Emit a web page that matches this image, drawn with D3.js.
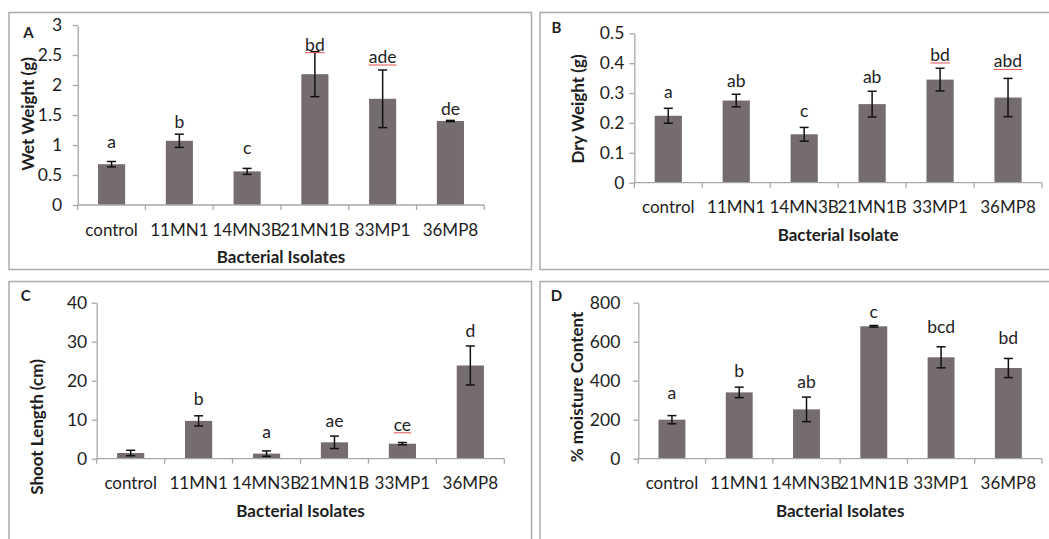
<!DOCTYPE html>
<html>
<head>
<meta charset="utf-8">
<script src="https://cdn.jsdelivr.net/npm/d3@7/dist/d3.min.js"></script>
<style>
  html, body { margin: 0; padding: 0; background: #fff; }
  svg { display: block; }
  text { font-family: Lato, "Open Sans", sans-serif; fill: #1e1e1e; }
</style>
</head>
<body>
<svg id="chart" width="1049" height="539"></svg>
<script>
// ---------------- DATA ----------------
const categories = ["control", "11MN1", "14MN3B", "21MN1B", "33MP1", "36MP8"];

const wetWeight        = [0.68, 1.07, 0.56, 2.18, 1.77, 1.40];
const wetWeightErr     = [0.045, 0.11, 0.05, 0.375, 0.48, 0.01];
const wetWeightLetters = ["a", "b", "c", "bd", "ade", "de"];
const wetWeightTicks   = [0, 0.5, 1, 1.5, 2, 2.5, 3];

const dryWeight        = [0.224, 0.275, 0.162, 0.263, 0.345, 0.285];
const dryWeightErr     = [0.025, 0.021, 0.023, 0.043, 0.038, 0.064];
const dryWeightLetters = ["a", "ab", "c", "ab", "bd", "abd"];
const dryWeightTicks   = [0, 0.1, 0.2, 0.3, 0.4, 0.5];

const shootLength        = [1.46, 9.7, 1.3, 4.2, 3.85, 23.9];
const shootLengthErr     = [0.7, 1.3, 0.7, 1.6, 0.3, 5.0];
const shootLengthLetters = ["", "b", "a", "ae", "ce", "d"];
const shootLengthTicks   = [0, 10, 20, 30, 40];

const moisture        = [200, 340, 253, 679, 520, 465];
const moistureErr     = [21, 27, 63, 4, 54, 49];
const moistureLetters = ["a", "b", "ab", "c", "bcd", "bd"];
const moistureTicks   = [0, 200, 400, 600, 800];

// letters flagged by the word processor's spell checker (red underline)
const wetWeightFlagged   = ["bd", "ade"];
const dryWeightFlagged   = ["bd", "abd"];
const shootLengthFlagged = ["ce"];
const moistureFlagged    = [];

// ---------------- LAYOUT ----------------
const panels = [
  { letter: "A", values: wetWeight, errs: wetWeightErr, letters: wetWeightLetters, ticks: wetWeightTicks,
    flagged: wetWeightFlagged, yTitle: "Wet Weight (g)", xTitle: "Bacterial Isolates",
    frame: [9, 12.5, 522.5, 257], x0: 77.7, x1: 484.3, yTop: 25, yBase: 205,
    yTickPad: 15.5, yTitleX: 28, yTitleY: 114, xTitleY: 262.7, letterXY: [23.3, 38],
    gaps: [14, 6.7, 14, 1, 7, 5.3] },
  { letter: "B", values: dryWeight, errs: dryWeightErr, letters: dryWeightLetters, ticks: dryWeightTicks,
    flagged: dryWeightFlagged, yTitle: "Dry Weight (g)", xTitle: "Bacterial Isolate",
    frame: [540, 12.5, 530, 257], x0: 634.3, x1: 1042, yTop: 33.3, yBase: 182.7,
    yTickPad: 10, yTitleX: 578, yTitleY: 109, xTitleY: 240.7, letterXY: [551.5, 32.7],
    gaps: [10, 7.3, 10, 8.7, 7.3, 11] },
  { letter: "C", values: shootLength, errs: shootLengthErr, letters: shootLengthLetters, ticks: shootLengthTicks,
    flagged: shootLengthFlagged, yTitle: "Shoot Length (cm)", xTitle: "Bacterial Isolates",
    frame: [9, 281.5, 522.5, 300], x0: 96.7, x1: 504.3, yTop: 302.7, yBase: 458.7,
    yTickPad: 9.5, yTitleX: 36.7, yTitleY: 427, xTitleY: 517.3, letterXY: [20.7, 301.3],
    gaps: [10, 11, 13.3, 8.7, 11.7, 9] },
  { letter: "D", values: moisture, errs: moistureErr, letters: moistureLetters, ticks: moistureTicks,
    flagged: moistureFlagged, yTitle: "% moisture Content", xTitle: "Bacterial Isolates",
    frame: [540, 281.5, 530, 300], x0: 638.3, x1: 1042, yTop: 302.7, yBase: 458.7,
    yTickPad: 18, yTitleX: 576.7, yTitleY: 387, xTitleY: 517.3, letterXY: [550.7, 301.3],
    gaps: [16.7, 9.7, 9.3, 7.7, 13.7, 14] }
];

const barColor = "#746c6d";
const axisColor = "#a8a8a8";
const frameColor = "#acacac";

const svg = d3.select("#chart");

panels.forEach(p => {
  const g = svg.append("g");

  // frame
  g.append("rect")
    .attr("x", p.frame[0]).attr("y", p.frame[1])
    .attr("width", p.frame[2]).attr("height", p.frame[3])
    .attr("fill", "none").attr("stroke", frameColor).attr("stroke-width", 1.5);

  const x = d3.scaleBand().domain(categories).range([p.x0, p.x1]).paddingInner(0.6).paddingOuter(0.3);
  const xb = d3.scaleBand().domain(categories).range([p.x0, p.x1]);
  const maxT = p.ticks[p.ticks.length - 1];
  const y = d3.scaleLinear().domain([0, maxT]).range([p.yBase, p.yTop]);

  // bars
  g.selectAll("rect.bar").data(p.values).enter().append("rect")
    .attr("class", "bar")
    .attr("x", (d, i) => x(categories[i]))
    .attr("width", x.bandwidth())
    .attr("y", d => y(d))
    .attr("height", d => y(0) - y(d))
    .attr("fill", barColor);

  // y axis
  const yAxis = g.append("g")
    .attr("transform", `translate(${p.x0},0)`)
    .call(d3.axisLeft(y).tickValues(p.ticks).tickSize(5).tickSizeOuter(0)
      .tickPadding(p.yTickPad - 5).tickFormat(d3.format("~g")));
  yAxis.select(".domain").attr("stroke", axisColor).attr("stroke-width", 1.3);
  yAxis.selectAll(".tick line").attr("stroke", axisColor).attr("stroke-width", 1.3);
  yAxis.selectAll(".tick text")
    .style("font-family", "Lato, 'Open Sans', sans-serif")
    .style("font-size", "17.5px").attr("fill", "#1e1e1e");

  // x axis line + boundary ticks
  g.append("line").attr("x1", p.x0).attr("x2", p.x1)
    .attr("y1", y(0)).attr("y2", y(0))
    .attr("stroke", axisColor).attr("stroke-width", 1.3);
  const bounds = categories.map(c => xb(c)).concat([p.x1]);
  g.selectAll("line.xt").data(bounds).enter().append("line")
    .attr("x1", d => d).attr("x2", d => d)
    .attr("y1", y(0)).attr("y2", y(0) + 5)
    .attr("stroke", axisColor).attr("stroke-width", 1.3);

  // x tick labels
  g.selectAll("text.xl").data(categories).enter().append("text")
    .attr("x", d => xb(d) + xb.bandwidth() / 2)
    .attr("y", y(0) + 30.5)
    .attr("text-anchor", "middle")
    .style("font-size", "17px")
    .text(d => d);

  // error bars
  const cap = 4.5;
  p.values.forEach((v, i) => {
    const cx = x(categories[i]) + x.bandwidth() / 2;
    const hi = y(v + p.errs[i]), lo = y(v - p.errs[i]);
    g.append("line").attr("x1", cx).attr("x2", cx).attr("y1", hi).attr("y2", lo)
      .attr("stroke", "#111").attr("stroke-width", 1.5);
    [hi, lo].forEach(yy => g.append("line")
      .attr("x1", cx - cap).attr("x2", cx + cap).attr("y1", yy).attr("y2", yy)
      .attr("stroke", "#111").attr("stroke-width", 1.5));

    // significance letters
    if (p.letters[i]) {
      const t = g.append("text")
        .attr("x", cx).attr("y", hi - p.gaps[i])
        .attr("text-anchor", "middle")
        .style("font-size", "17.5px")
        .text(p.letters[i]);
      if (p.flagged.includes(p.letters[i]) && (p.letters[i] !== "bd" || i >= 3)) {
        const bb = t.node().getBBox();
        g.append("line")
          .attr("x1", bb.x).attr("x2", bb.x + bb.width)
          .attr("y1", hi - p.gaps[i] + 2).attr("y2", hi - p.gaps[i] + 2)
          .attr("stroke", "#e05050").attr("stroke-width", 1);
      }
    }
  });

  // axis titles
  g.append("text")
    .attr("x", (p.x0 + p.x1) / 2).attr("y", p.xTitleY)
    .attr("text-anchor", "middle")
    .style("font-size", "17px").style("font-weight", "bold")
    .text(p.xTitle);
  g.append("text")
    .attr("transform", `translate(${p.yTitleX},${p.yTitleY}) rotate(-90)`)
    .attr("text-anchor", "middle")
    .attr("dy", "0.35em")
    .style("font-size", "17px").style("font-weight", "bold")
    .text(p.yTitle);

  // panel letter
  g.append("text")
    .attr("x", p.letterXY[0]).attr("y", p.letterXY[1])
    .style("font-size", "15px").style("font-weight", "bold")
    .text(p.letter);
});
</script>
</body>
</html>
